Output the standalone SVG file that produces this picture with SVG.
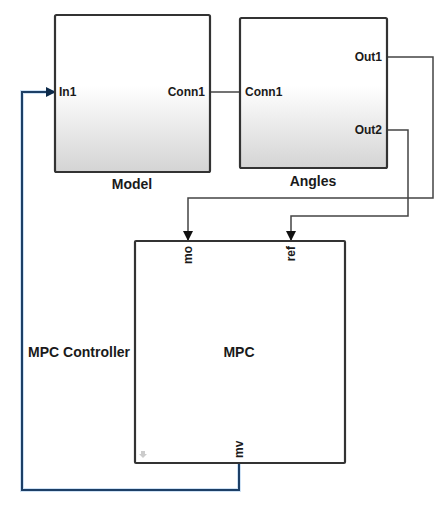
<svg xmlns="http://www.w3.org/2000/svg" width="446" height="528" viewBox="0 0 446 528">
<defs>
<linearGradient id="g" x1="0" y1="0" x2="0" y2="1">
<stop offset="0" stop-color="#ffffff"/>
<stop offset="0.45" stop-color="#ffffff"/>
<stop offset="1" stop-color="#d4d4d4"/>
</linearGradient>
<marker id="ah" markerWidth="10" markerHeight="10" refX="9" refY="5" orient="auto" markerUnits="userSpaceOnUse">
<path d="M0,0 L10,5 L0,10 Z" fill="#111"/>
</marker>
<marker id="ahb" markerWidth="10" markerHeight="10" refX="9" refY="5" orient="auto" markerUnits="userSpaceOnUse">
<path d="M0,0 L10,5 L0,10 Z" fill="#0d2a4a"/>
</marker>
</defs>
<style>
.blk{stroke:#333;stroke-width:2.2}
.t{font-family:"Liberation Sans",Arial,sans-serif;fill:#1a1a1a;font-weight:bold}
.p{font-size:12px}
.n{font-size:14px}
.w{fill:none;stroke:#444;stroke-width:1.5}
.b{fill:none;stroke:#1d3f66;stroke-width:2}
</style>
<rect width="446" height="528" fill="#fff"/>
<g id="connectors">
<path class="w" d="M210,92 H240"/>
<path class="w" d="M387,57 H433 V198 H188 V240" marker-end="url(#ah)"/>
<path class="w" d="M387,130 H408 V216 H291 V240" marker-end="url(#ah)"/>
<path d="M239,463 V490 H22 V92 H55" fill="none" stroke="#cfe2f5" stroke-width="4"/>
<path class="b" d="M239,463 V490 H22 V92 H55" marker-end="url(#ahb)"/>
</g>
<g id="model">
<rect class="blk" x="55" y="15" width="155" height="157" rx="1.5" fill="url(#g)"/>
<text class="t p" x="59" y="96">In1</text>
<text class="t p" x="205" y="96" text-anchor="end">Conn1</text>
<text class="t n" x="132" y="189" text-anchor="middle">Model</text>
</g>
<g id="angles">
<rect class="blk" x="240" y="18" width="147" height="150" rx="1.5" fill="url(#g)"/>
<text class="t p" x="245" y="96">Conn1</text>
<text class="t p" x="382" y="61" text-anchor="end">Out1</text>
<text class="t p" x="382" y="134" text-anchor="end">Out2</text>
<text class="t n" x="313" y="186" text-anchor="middle">Angles</text>
</g>
<g id="mpc">
<rect class="blk" x="135" y="241" width="210" height="222" rx="1" fill="#fff"/>
<text class="t p" text-anchor="end" transform="translate(192,246) rotate(-90)">mo</text>
<text class="t p" text-anchor="end" transform="translate(295,246) rotate(-90)">ref</text>
<text class="t p" transform="translate(243,458) rotate(-90)">mv</text>
<text class="t n" x="130" y="357" text-anchor="end">MPC Controller</text>
<text class="t n" x="239" y="357" text-anchor="middle">MPC</text>
<path d="M141,451 h4 v3 h2 l-4,4 l-4,-4 h2 z" fill="#ccc"/>
</g>
</svg>
